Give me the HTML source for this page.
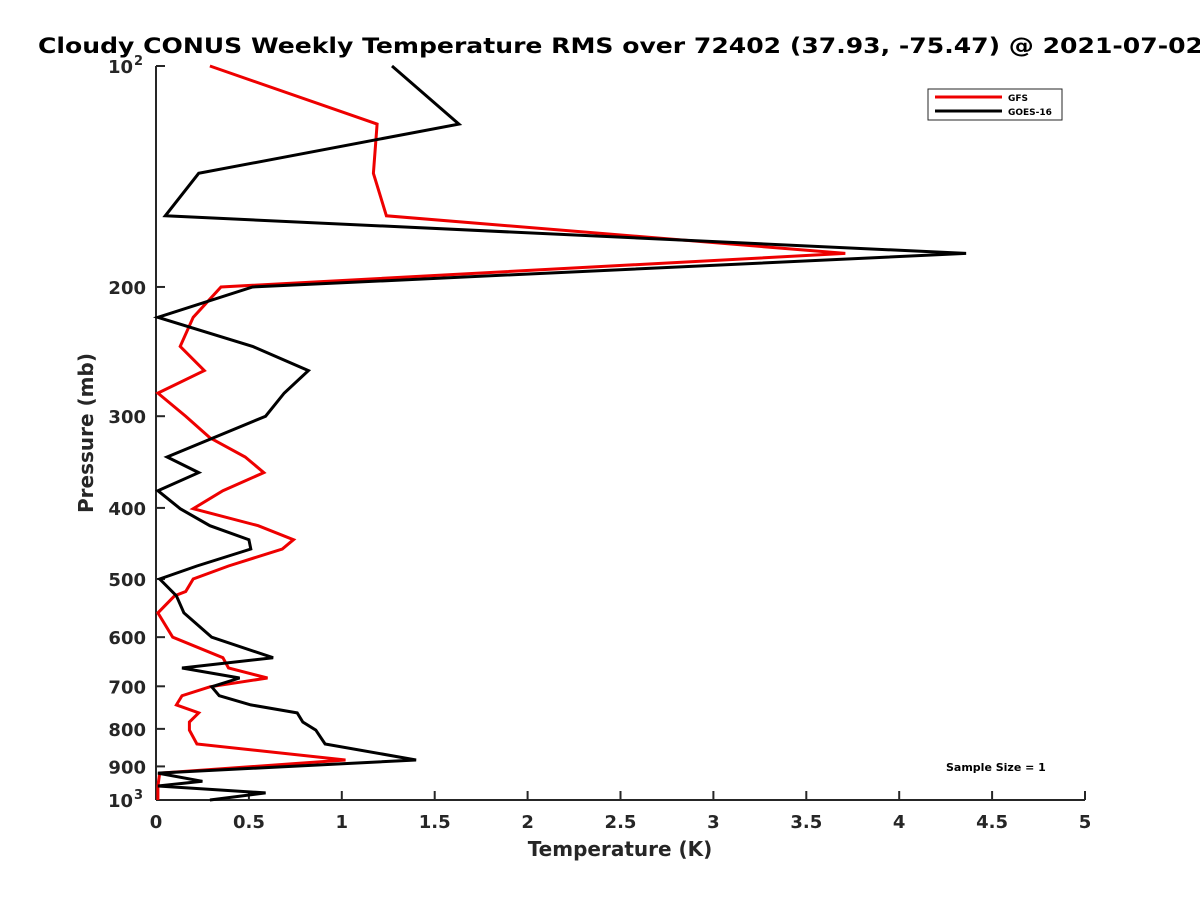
<!DOCTYPE html>
<html><head><meta charset="utf-8"><style>
body{margin:0;background:#fff;}
svg{display:block;font-family:"DejaVu Sans","Liberation Sans",sans-serif;}
</style></head><body>
<svg id="chart" width="1200" height="900">
<text x="38" y="53" font-size="21" font-weight="bold" fill="#000" textLength="1165" lengthAdjust="spacingAndGlyphs">Cloudy CONUS Weekly Temperature RMS over 72402 (37.93, -75.47) @ 2021-07-02</text>
<g id="axes"></g>
<g id="series"></g>
<g>
<rect x="928" y="89" width="134" height="31" fill="#fff" stroke="#262626" stroke-width="1"/>
<line x1="935" y1="97" x2="1002" y2="97" stroke="#e00" stroke-width="3"/>
<text x="1008" y="101" font-size="9" font-weight="bold">GFS</text>
<line x1="935" y1="111" x2="1002" y2="111" stroke="#000" stroke-width="3"/>
<text x="1008" y="115" font-size="9" font-weight="bold">GOES-16</text>
</g>
<text x="946" y="771" font-size="11" font-weight="bold">Sample Size = 1</text>
<text x="620" y="856" font-size="20" font-weight="bold" fill="#262626" text-anchor="middle">Temperature (K)</text>
<text transform="translate(93,433) rotate(-90)" font-size="20" font-weight="bold" fill="#262626" text-anchor="middle">Pressure (mb)</text>
</svg>
<script>
const xTicks=[0,0.5,1,1.5,2,2.5,3,3.5,4,4.5,5];
const xTickLabels=["0","0.5","1","1.5","2","2.5","3","3.5","4","4.5","5"];
const yTicks=[100,200,300,400,500,600,700,800,900,1000];
const yTickLabels=["10","200","300","400","500","600","700","800","900","10"];
const goesP=[100,120,140,160,180,200,220,241,260,279,300,341,358,379,401,423,442,455,480,500,527,556,600,640,661,682,701,721,742,761,783,803,839,882,919,943,957,978,1000];
const goesT=[1.27,1.63,0.23,0.05,4.36,0.52,0.01,0.52,0.82,0.69,0.59,0.06,0.23,0.01,0.13,0.29,0.50,0.51,0.22,0.02,0.11,0.15,0.30,0.63,0.14,0.45,0.30,0.34,0.51,0.76,0.79,0.86,0.91,1.40,0.01,0.25,0.01,0.59,0.29];
const gfsP=[100,120,140,160,180,200,220,241,260,279,300,321,341,358,379,401,423,442,455,480,500,520,527,556,600,640,661,682,701,721,742,761,783,803,839,882,919,957,1000];
const gfsT=[0.29,1.19,1.17,1.24,3.71,0.35,0.20,0.13,0.26,0.01,0.16,0.29,0.48,0.58,0.36,0.20,0.55,0.74,0.68,0.39,0.20,0.16,0.10,0.01,0.09,0.36,0.39,0.60,0.29,0.14,0.11,0.23,0.18,0.18,0.22,1.02,0.02,0.01,0.01];
const X0=156,X1=1085,Y0=66,Y1=800;
const xs=v=>X0+(v/5)*(X1-X0);
const ys=p=>Y0+Math.log10(p/100)*(Y1-Y0);
const NS="http://www.w3.org/2000/svg";
function mk(tag,attrs,parent){const e=document.createElementNS(NS,tag);for(const k in attrs)e.setAttribute(k,attrs[k]);parent.appendChild(e);return e;}
const ax=document.getElementById('axes');
const yl=mk('line',{x1:X0,y1:Y0,x2:X0,y2:Y1,stroke:'#262626','stroke-width':2},ax);


const xl=mk('line',{x1:X0,y1:Y1,x2:X1,y2:Y1,stroke:'#262626','stroke-width':2},ax);


xTicks.forEach((v,i)=>{
 const t=mk('line',{x1:xs(v),y1:Y1,x2:xs(v),y2:Y1-9,stroke:'#262626','stroke-width':2},ax);
 
 
 const l=mk('text',{x:xs(v),y:Y1+28,'font-size':18,'font-weight':'bold',fill:'#262626','text-anchor':'middle'},ax);
 l.textContent=xTickLabels[i];
 
 
});
yTicks.forEach((p,i)=>{
 const y=ys(p);
 const t=mk('line',{x1:X0,y1:y,x2:X0+9,y2:y,stroke:'#262626','stroke-width':2},ax);
 
 
 const l=mk('text',{x:X0-10,y:y+7,'font-size':18,'font-weight':'bold',fill:'#262626','text-anchor':'end'},ax);
 l.textContent=yTickLabels[i];
 if(p===100||p===1000){
  l.setAttribute('x',X0-23);
  const s=mk('text',{x:X0-22,y:y-1,'font-size':13,'font-weight':'bold',fill:'#262626'},ax);
  s.textContent=p===100?'2':'3';
  
  
 }
 
 
});
const sg=document.getElementById('series');
function line(P,T,color,name){
 const pts=P.map((p,i)=>xs(T[i]).toFixed(1)+','+ys(p).toFixed(1)).join(' ');
 const pl=mk('polyline',{points:pts,fill:'none',stroke:color,'stroke-width':3,'stroke-linejoin':'miter'},sg);
 
 
}
line(gfsP,gfsT,'#e00','gfs-line');
line(goesP,goesT,'#000','goes16-line');
</script>
</body></html>
